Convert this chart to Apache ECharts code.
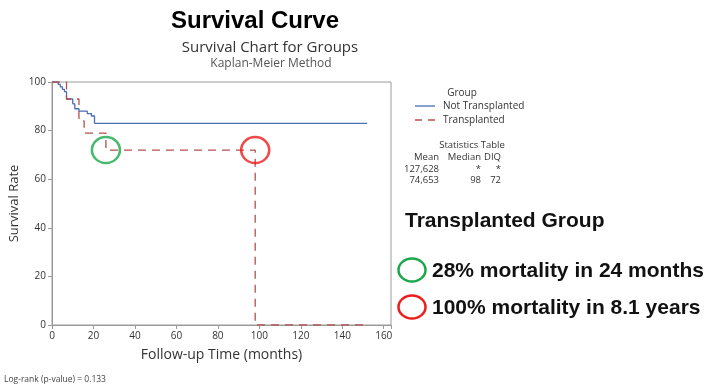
<!DOCTYPE html>
<html>
<head>
<meta charset="utf-8">
<script src="https://cdn.jsdelivr.net/npm/echarts@6/dist/echarts.min.js"></script>
<style>
  html, body { margin: 0; padding: 0; background: #fff; }
  #chart { width: 711px; height: 390px; }
</style>
</head>
<body>
<div id="chart"></div>
<script>
// Kaplan-Meier steps (months, survival %)
const notTxTimes = [0, 3, 4, 5, 6, 7, 10, 11, 13, 17, 19, 20.5, 152];
const notTxSurv = [100, 99, 98, 97, 96, 93, 91, 89, 88, 87, 86, 83, 83];
const txTimes = [0, 7, 13, 15.5, 26, 98, 152];
const txSurv = [100, 93, 84, 79, 72, 0, 0];

// circled points on the transplanted curve
const greenMark = [26, 72];
const redMark = [98, 72];

const xTicks = [0, 20, 40, 60, 80, 100, 120, 140, 160];
const groupNames = ['Not Transplanted', 'Transplanted'];
const statsCols = ['Mean', 'Median', 'DIQ'];
const statsRows = [
  ['127,628', '*', '*'],
  ['74,653', '98', '72']
];
const notes = ['28% mortality in 24 months', '100% mortality in 8.1 years'];

const chart = echarts.init(document.getElementById('chart'));
const uiFont = '"Open Sans", "Noto Sans", sans-serif';
const boldFont = '"Liberation Sans", Arial, sans-serif';
const axisGray = '#9a9a9a';
const blue = '#4a6fb5';
const red = '#b2504e';

const toPairs = (xs, ys) => xs.map((x, i) => [x, ys[i]]);

// legend drawn by hand so the dashed key matches
const legendGraphics = [];
groupNames.forEach((g, i) => {
  const y = 106 + i * 14;
  legendGraphics.push({
    type: 'line', shape: { x1: 415, y1: y, x2: 435, y2: y },
    style: { stroke: i === 0 ? blue : red, lineWidth: 1.3, lineDash: i === 0 ? null : [7, 6] }
  });
  legendGraphics.push({
    type: 'text', x: 443, y: y,
    style: { text: g, fill: '#333', font: '10px ' + uiFont, verticalAlign: 'middle' }
  });
});

// stats table as graphic texts
const colRight = [439, 481, 501];
const statsGraphics = [];
statsCols.forEach((c, i) => {
  statsGraphics.push({
    type: 'text', x: colRight[i], y: 157,
    style: { text: c, fill: '#333', font: '9.5px ' + uiFont, align: 'right', verticalAlign: 'middle' }
  });
});
statsRows.forEach((row, r) => {
  row.forEach((v, i) => {
    statsGraphics.push({
      type: 'text', x: colRight[i], y: 169 + r * 11,
      style: { text: v, fill: '#333', font: '9.5px ' + uiFont, align: 'right', verticalAlign: 'middle' }
    });
  });
});

const noteColors = ['#1aa84a', '#ee1c1c'];
const noteGraphics = [];
notes.forEach((t, i) => {
  const cy = 270 + i * 37;
  noteGraphics.push({
    type: 'ellipse', shape: { cx: 412, cy: cy, rx: 13.5, ry: 11.5 },
    style: { fill: 'none', stroke: noteColors[i], lineWidth: 2.5 }
  });
  noteGraphics.push({
    type: 'text', x: 432, y: cy + 1,
    style: { text: t, fill: '#111', font: 'bold 21px ' + boldFont, verticalAlign: 'middle' }
  });
});

const option = {
  backgroundColor: '#fff',
  animation: false,
  title: [
    {
      text: 'Survival Curve', left: 250, top: 4, textAlign: 'center',
      textStyle: { fontSize: 24, fontWeight: 'bold', fontFamily: boldFont, color: '#000' }
    },
    {
      text: 'Survival Chart for Groups', left: 265, top: 35, textAlign: 'center',
      textStyle: { fontSize: 15, fontWeight: 'normal', fontFamily: uiFont, color: '#333' }
    },
    {
      text: 'Kaplan-Meier Method', left: 266, top: 53, textAlign: 'center',
      textStyle: { fontSize: 12, fontWeight: 'normal', fontFamily: uiFont, color: '#555' }
    }
  ],
  grid: {
    left: 52, top: 82, right: 320, bottom: 65,
    show: true, borderColor: axisGray, borderWidth: 1
  },
  xAxis: {
    type: 'value', min: 0, max: 163.5, interval: 20,
    name: 'Follow-up Time (months)', nameLocation: 'middle', nameGap: 23,
    nameTextStyle: { fontSize: 14, fontFamily: uiFont, color: '#333' },
    axisLine: { show: true, lineStyle: { color: axisGray } },
    axisTick: { show: true, length: 4, lineStyle: { color: axisGray } },
    axisLabel: {
      fontSize: 10, fontFamily: uiFont, color: '#333', margin: 6,
      formatter: v => (xTicks.includes(v) ? String(v) : '')
    },
    splitLine: { show: false }
  },
  yAxis: {
    type: 'value', min: 0, max: 100, interval: 20,
    name: 'Survival Rate', nameLocation: 'middle', nameGap: 31,
    nameTextStyle: { fontSize: 13, fontFamily: uiFont, color: '#333' },
    axisLine: { show: true, lineStyle: { color: axisGray } },
    axisTick: { show: true, length: 4, lineStyle: { color: axisGray } },
    axisLabel: { fontSize: 10, fontFamily: uiFont, color: '#333', margin: 6 },
    splitLine: { show: false }
  },
  series: [
    {
      name: groupNames[0], type: 'line', step: 'end', symbol: 'none',
      data: toPairs(notTxTimes, notTxSurv),
      lineStyle: { color: blue, width: 1.3 },
      itemStyle: { color: blue }
    },
    {
      name: groupNames[1], type: 'line', step: 'end', symbol: 'none',
      data: toPairs(txTimes, txSurv),
      lineStyle: { color: red, width: 1.3, type: [8, 6] },
      itemStyle: { color: red }
    },
    {
      name: 'marks', type: 'scatter', symbol: 'circle', symbolSize: [28, 26], z: 5,
      data: [
        { value: greenMark, itemStyle: { borderColor: '#1aa84a' } },
        { value: redMark, itemStyle: { borderColor: '#ee1c1c' } }
      ],
      itemStyle: { color: 'rgba(0,0,0,0)', borderWidth: 2.5 },
      emphasis: { disabled: true }
    }
  ],
  graphic: [
    {
      type: 'text', x: 462, y: 93,
      style: { text: 'Group', fill: '#333', font: '10px ' + uiFont, align: 'center', verticalAlign: 'middle' }
    },
    ...legendGraphics,
    {
      type: 'text', x: 472, y: 145,
      style: { text: 'Statistics Table', fill: '#333', font: '9.5px ' + uiFont, align: 'center', verticalAlign: 'middle' }
    },
    ...statsGraphics,
    {
      type: 'text', x: 405, y: 221,
      style: { text: 'Transplanted Group', fill: '#111', font: 'bold 21px ' + boldFont, verticalAlign: 'middle' }
    },
    ...noteGraphics,
    {
      type: 'text', x: 4, y: 380,
      style: { text: 'Log-rank (p-value) = 0.133', fill: '#444', font: '8.5px ' + uiFont, verticalAlign: 'middle' }
    }
  ]
};

chart.setOption(option);
</script>
</body>
</html>
